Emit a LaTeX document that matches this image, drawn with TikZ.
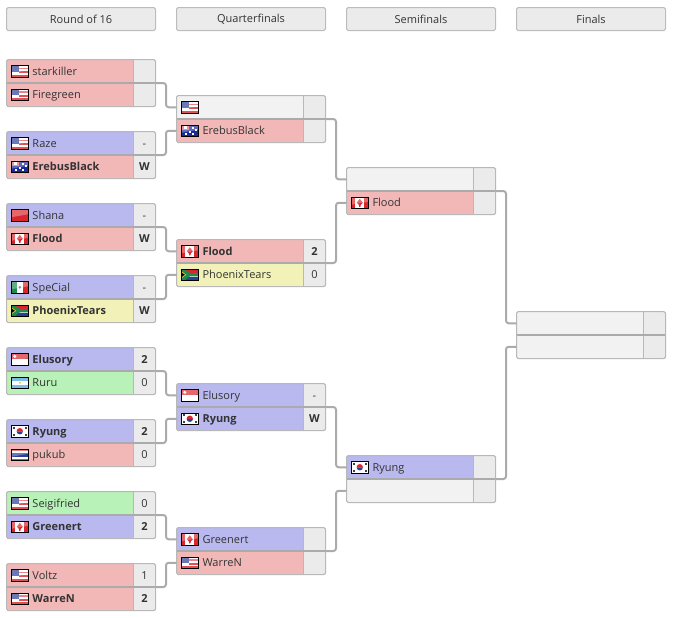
\documentclass[tikz,border=0pt]{standalone}
\usepackage{fontspec}
\setmainfont{Open Sans}
\usetikzlibrary{positioning,calc}
\definecolor{ink}{HTML}{333333}
\definecolor{edge}{HTML}{ABABAB}
\definecolor{paleRed}{HTML}{F2B8B8}
\definecolor{paleBlue}{HTML}{B9B9F0}
\definecolor{paleYellow}{HTML}{F2F2B8}
\definecolor{paleGreen}{HTML}{B8F2B8}
\definecolor{paleEmpty}{HTML}{F2F2F2}
\definecolor{paleScore}{HTML}{EBEBEB}
\definecolor{flagRed}{HTML}{D8262C}
\definecolor{flagBlue}{HTML}{2A3F96}
\definecolor{flagNavy}{HTML}{1B2A9A}
\definecolor{flagSky}{HTML}{78BDE8}
\definecolor{flagGreen}{HTML}{1E8A50}
\definecolor{flagGold}{HTML}{E8C020}
% shine and black edge of a flag
\newcommand{\flagfinish}{
  \fill[white, opacity=.3] (-8.5,-5.75) -- (8.5,-5.75) -- (8.5,-1) -- (-8.5,2) -- cycle;
  \draw[flagframe] (-8.5,-5.75) rectangle (8.5,5.75);
}
\tikzset{
  slot/.style={rectangle, anchor=north west, inner xsep=0pt, inner ysep=0pt, outer sep=0pt,
               minimum height=17.625pt, text width=95.25pt, align=left, text=ink,
               text height=6.9pt, text depth=1.1pt, font=\fontsize{8.25pt}{10pt}\selectfont},
  scorecell/.style={rectangle, fill=paleScore, inner sep=0pt, outer sep=0pt, minimum height=17.625pt,
               minimum width=16.5pt, align=center, text=ink,
               text height=6.9pt, text depth=1.1pt, font=\fontsize{8.25pt}{10pt}\selectfont},
  roundhead/.style={rectangle, rounded corners=1.2pt, draw=edge!80!white, fill=paleScore,
               line width=.75pt, minimum width=111.75pt, minimum height=17.25pt,
               inner sep=0pt, outer sep=0pt, text=ink, font=\fontsize{8.25pt}{10pt}\selectfont},
  frameline/.style={draw=edge!85!white, line width=.75pt, rounded corners=1.2pt},
  divider/.style={draw=edge!85!white, line width=.75pt},
  midline/.style={draw=edge, line width=1.5pt},
  bracket/.style={draw=edge, line width=1.5pt, rounded corners=2pt},
  flagframe/.style={draw=black, line width=.6pt},
  flagnone/.pic={},
  flagus/.pic={
    \fill[white] (-8.5,-5.75) rectangle (8.5,5.75);
    \fill[flagRed!80!white] (-1,-3.6) rectangle (8.5,-1.8);
    \fill[flagRed!80!white] (-1,0) rectangle (8.5,1.8);
    \fill[flagRed!80!white] (-8.5,3.6) rectangle (8.5,5.75);
    \fill[flagBlue] (-8.5,-5.75) rectangle (-1,0.5);
    \flagfinish
  },
  flagca/.pic={
    \fill[white] (-8.5,-5.75) rectangle (8.5,5.75);
    \fill[flagRed] (-8.5,-5.75) rectangle (-4.5,5.75);
    \fill[flagRed] (4.5,-5.75) rectangle (8.5,5.75);
    \fill[flagRed] (0,-4) -- (3,0) -- (1,2) -- (0.6,4) -- (-0.6,4) -- (-1,2) -- (-3,0) -- cycle;
    \flagfinish
  },
  flagau/.pic={
    \fill[flagNavy] (-8.5,-5.75) rectangle (8.5,5.75);
    \fill[flagRed!70!white] (-8.5,-5.75) rectangle (-1,-0.5);
    \fill[white] (-6,-4.5) rectangle (-3,-1.5);
    \foreach \sx/\sy in {3/-3,6/-1,3/3,0/1,-4/3}
      \fill[white] (\sx-.8,\sy-.8) rectangle (\sx+.8,\sy+.8);
    \flagfinish
  },
  flagcn/.pic={
    \fill[flagRed] (-8.5,-5.75) rectangle (8.5,5.75);
    \flagfinish
  },
  flagmx/.pic={
    \fill[white] (-8.5,-5.75) rectangle (8.5,5.75);
    \fill[flagGreen] (-8.5,-5.75) rectangle (-3,5.75);
    \fill[flagRed] (3,-5.75) rectangle (8.5,5.75);
    \fill[black!60] (0,0) circle[radius=1.4];
    \flagfinish
  },
  flagza/.pic={
    \fill[white] (-8.5,-5.75) rectangle (8.5,5.75);
    \fill[flagRed] (-6,-5.75) rectangle (8.5,-2);
    \fill[flagBlue] (-6,2) rectangle (8.5,5.75);
    \fill[flagGreen] (-8.5,-5.75) -- (-5.5,-5.75) -- (0,-1.6) -- (8.5,-1.6) -- (8.5,1.6) -- (0,1.6) -- (-5.5,5.75) -- (-8.5,5.75) -- cycle;
    \fill[flagGold] (-8.5,-3.6) -- (-3.5,0) -- (-8.5,3.6) -- cycle;
    \fill[black] (-8.5,-2.4) -- (-5,0) -- (-8.5,2.4) -- cycle;
    \draw[flagframe] (-8.5,-5.75) rectangle (8.5,5.75);
  },
  flagsg/.pic={
    \fill[white] (-8.5,-5.75) rectangle (8.5,5.75);
    \fill[flagRed] (-8.5,-5.75) rectangle (8.5,0);
    \fill[white] (-5,-3) circle[radius=1.7];
    \flagfinish
  },
  flagar/.pic={
    \fill[white] (-8.5,-5.75) rectangle (8.5,5.75);
    \fill[flagSky] (-8.5,-5.75) rectangle (8.5,-2);
    \fill[flagSky] (-8.5,2) rectangle (8.5,5.75);
    \fill[flagGold] (0,0) circle[radius=1];
    \draw[flagframe] (-8.5,-5.75) rectangle (8.5,5.75);
  },
  flagkr/.pic={
    \fill[white] (-8.5,-5.75) rectangle (8.5,5.75);
    \fill[flagRed] (-3.2,0) arc[start angle=180, end angle=360, radius=3.2] -- cycle;
    \fill[flagBlue] (-3.2,0) arc[start angle=180, end angle=0, radius=3.2] -- cycle;
    \foreach \sx/\sy in {-6/-3.5,6/-3.5,-6/3.5,6/3.5}
      \fill[black!75] (\sx-1,\sy-1) rectangle (\sx+1,\sy+1);
    \draw[flagframe] (-8.5,-5.75) rectangle (8.5,5.75);
  },
  flagth/.pic={
    \fill[white] (-8.5,-5.75) rectangle (8.5,5.75);
    \fill[flagRed!85!white] (-8.5,-5.75) rectangle (8.5,-3.9);
    \fill[flagBlue] (-8.5,-2) rectangle (8.5,2);
    \fill[flagRed!85!white] (-8.5,3.9) rectangle (8.5,5.75);
    \flagfinish
  }
}
% one row of a match: name, placement, colour, flag, text, score
\newcommand{\player}[6]{
  \node[slot, fill=#3, #2] (#1) {\hspace*{19.5pt}#5};
  \node[scorecell, right=0pt of #1] (#1s) {#6};
  \pic at ($(#1.west)+(13.3,0)$) {flag#4};
}
% frame, divider and thick middle line of a match
\newcommand{\matchframe}[1]{
  \draw[divider] (#1as.north west) -- (#1bs.south west);
  \draw[midline] (#1a.south west) -- (#1as.south east);
  \draw[frameline] (#1a.north west) rectangle (#1bs.south east);
}
\begin{document}
\begin{tikzpicture}[x=.75pt, y=-.75pt]
\useasboundingbox (0,0) rectangle (679,618);
% round titles
\node[roundhead] (roundone) at (81,19) {Round of 16};
\node[roundhead, right=15.75pt of roundone] (roundtwo) {Quarterfinals};
\node[roundhead, right=15.75pt of roundtwo] (roundthree) {Semifinals};
\node[roundhead, right=15.75pt of roundthree] (roundfour) {Finals};
% round of 16
\player{r1a}{at={(6.5,59.5)}}{paleRed}{us}{starkiller}{}
\player{r1b}{below=0pt of r1a}{paleRed}{us}{Firegreen}{}
\player{r2a}{at={(6.5,131.5)}}{paleBlue}{us}{Raze}{-}
\player{r2b}{below=0pt of r2a}{paleRed}{au}{\textbf{ErebusBlack}}{\textbf{W}}
\player{r3a}{at={(6.5,203.5)}}{paleBlue}{cn}{Shana}{-}
\player{r3b}{below=0pt of r3a}{paleRed}{ca}{\textbf{Flood}}{\textbf{W}}
\player{r4a}{at={(6.5,275.5)}}{paleBlue}{mx}{SpeCial}{-}
\player{r4b}{below=0pt of r4a}{paleYellow}{za}{\textbf{PhoenixTears}}{\textbf{W}}
\player{r5a}{at={(6.5,347.5)}}{paleBlue}{sg}{\textbf{Elusory}}{\textbf{2}}
\player{r5b}{below=0pt of r5a}{paleGreen}{ar}{Ruru}{0}
\player{r6a}{at={(6.5,419.5)}}{paleBlue}{kr}{\textbf{Ryung}}{\textbf{2}}
\player{r6b}{below=0pt of r6a}{paleRed}{th}{pukub}{0}
\player{r7a}{at={(6.5,491.5)}}{paleGreen}{us}{Seigifried}{0}
\player{r7b}{below=0pt of r7a}{paleBlue}{ca}{\textbf{Greenert}}{\textbf{2}}
\player{r8a}{at={(6.5,563.5)}}{paleRed}{us}{Voltz}{1}
\player{r8b}{below=0pt of r8a}{paleRed}{us}{\textbf{WarreN}}{\textbf{2}}
% quarterfinals
\player{q1a}{at={(176.5,95.5)}}{paleEmpty}{us}{}{}
\player{q1b}{below=0pt of q1a}{paleRed}{au}{ErebusBlack}{}
\player{q2a}{at={(176.5,239.5)}}{paleRed}{ca}{\textbf{Flood}}{\textbf{2}}
\player{q2b}{below=0pt of q2a}{paleYellow}{za}{PhoenixTears}{0}
\player{q3a}{at={(176.5,383.5)}}{paleBlue}{sg}{Elusory}{-}
\player{q3b}{below=0pt of q3a}{paleBlue}{kr}{\textbf{Ryung}}{\textbf{W}}
\player{q4a}{at={(176.5,527.5)}}{paleBlue}{ca}{Greenert}{}
\player{q4b}{below=0pt of q4a}{paleRed}{us}{WarreN}{}
% semifinals
\player{s1a}{at={(346.5,167.5)}}{paleEmpty}{none}{}{}
\player{s1b}{below=0pt of s1a}{paleRed}{ca}{Flood}{}
\player{s2a}{at={(346.5,455.5)}}{paleBlue}{kr}{Ryung}{}
\player{s2b}{below=0pt of s2a}{paleEmpty}{none}{}{}
% finals
\player{f1a}{at={(516.5,311.5)}}{paleEmpty}{none}{}{}
\player{f1b}{below=0pt of f1a}{paleEmpty}{none}{}{}
\matchframe{r1}
\matchframe{r2}
\matchframe{r3}
\matchframe{r4}
\matchframe{r5}
\matchframe{r6}
\matchframe{r7}
\matchframe{r8}
\matchframe{q1}
\matchframe{q2}
\matchframe{q3}
\matchframe{q4}
\matchframe{s1}
\matchframe{s2}
\matchframe{f1}
% connectors
\draw[bracket] (r1as.south east) -- ++(10.5,0) |- (q1a.west);
\draw[bracket] (r2as.south east) -- ++(10.5,0) |- (q1b.west);
\draw[bracket] (r3as.south east) -- ++(10.5,0) |- (q2a.west);
\draw[bracket] (r4as.south east) -- ++(10.5,0) |- (q2b.west);
\draw[bracket] (r5as.south east) -- ++(10.5,0) |- (q3a.west);
\draw[bracket] (r6as.south east) -- ++(10.5,0) |- (q3b.west);
\draw[bracket] (r7as.south east) -- ++(10.5,0) |- (q4a.west);
\draw[bracket] (r8as.south east) -- ++(10.5,0) |- (q4b.west);
\draw[bracket] (q1as.south east) -- ++(10.5,0) |- (s1a.west);
\draw[bracket] (q2as.south east) -- ++(10.5,0) |- (s1b.west);
\draw[bracket] (q3as.south east) -- ++(10.5,0) |- (s2a.west);
\draw[bracket] (q4as.south east) -- ++(10.5,0) |- (s2b.west);
\draw[bracket] (s1as.south east) -- ++(10.5,0) |- (f1a.west);
\draw[bracket] (s2as.south east) -- ++(10.5,0) |- (f1b.west);
\end{tikzpicture}
\end{document}
